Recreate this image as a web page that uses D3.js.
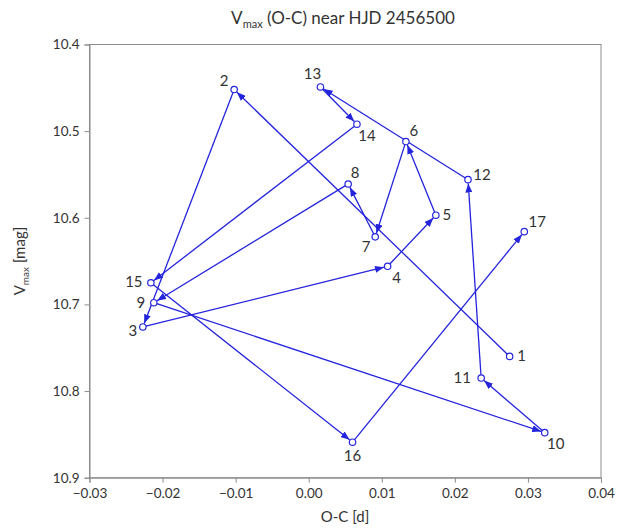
<!DOCTYPE html>
<html lang="en">
<head>
  <meta charset="utf-8">
  <title>Vmax O-C</title>
  <script src="https://cdn.jsdelivr.net/npm/d3@7"></script>
  <style>
    * { margin: 0; padding: 0; }
    body { background: #fff; }
    svg text { font-family: Lato, "Open Sans", sans-serif; fill: #333; }
  </style>
</head>
<body>
  <div id="chart"></div>
  <script>
    // point numbers, O-C [d], Vmax [mag]
    var ids = [1, 2, 3, 4, 5, 6, 7, 8, 9, 10, 11, 12, 13, 14, 15, 16, 17];
    var oc = [0.0275, -0.0102, -0.0227, 0.0108, 0.0174, 0.0133, 0.0091, 0.0054, -0.0212,
              0.0323, 0.0236, 0.0218, 0.0016, 0.0066, -0.0216, 0.0060, 0.0295];
    var vmax = [10.760, 10.452, 10.726, 10.656, 10.597, 10.512, 10.622, 10.561, 10.698,
                10.848, 10.785, 10.556, 10.449, 10.492, 10.675, 10.859, 10.616];
    var xTicks = [-0.03, -0.02, -0.01, 0.00, 0.01, 0.02, 0.03, 0.04];
    var yTicks = [10.4, 10.5, 10.6, 10.7, 10.8, 10.9];

    // where each number sits relative to its point
    var labelOffset = {
      1: [12, 5], 2: [-10, -4], 3: [-10, 9], 4: [9, 17], 5: [11, 5], 6: [8, -6],
      7: [-9, 15], 8: [7, -6], 9: [-13, 5], 10: [11, 16], 11: [-19, 5], 12: [14, 0],
      13: [-8, -8], 14: [10, 17], 15: [-17, 4], 16: [0, 19], 17: [13, -5]
    };

    var W = 626, H = 532;
    var margin = { top: 44.5, right: 25, bottom: 54.3, left: 89.5 };
    var blue = '#2424dc';

    var svg = d3.select('#chart').append('svg')
        .attr('width', W)
        .attr('height', H);

    var x = d3.scaleLinear().domain([-0.03, 0.04]).range([margin.left, W - margin.right]);
    var y = d3.scaleLinear().domain([10.4, 10.9]).range([margin.top, H - margin.bottom]);

    // frame
    svg.append('rect')
        .attr('x', x(-0.03)).attr('y', y(10.4))
        .attr('width', x(0.04) - x(-0.03)).attr('height', y(10.9) - y(10.4))
        .attr('fill', 'none').attr('stroke', '#8c8c8c').attr('stroke-width', 1);

    var xAxis = svg.append('g')
        .attr('transform', 'translate(0,' + y(10.9) + ')')
        .call(d3.axisBottom(x).tickValues(xTicks).tickSize(5).tickPadding(6)
          .tickFormat(d3.format('.2f')));
    var yAxis = svg.append('g')
        .attr('transform', 'translate(' + x(-0.03) + ',0)')
        .call(d3.axisLeft(y).tickValues(yTicks).tickSize(5).tickPadding(5)
          .tickFormat(d3.format('.1f')));
    [xAxis, yAxis].forEach(function(g) {
      g.select('.domain').attr('stroke', '#8c8c8c');
      g.selectAll('line').attr('stroke', '#8c8c8c');
      g.selectAll('text').attr('font-size', '13.5px').attr('fill', '#333')
        .style('font-family', 'Lato, sans-serif');
    });

    // title
    var title = svg.append('text')
        .attr('x', 343).attr('y', 24)
        .attr('text-anchor', 'middle')
        .attr('font-size', '17px');
    title.append('tspan').text('V');
    title.append('tspan').attr('font-size', '11px').attr('dy', 4).text('max');
    title.append('tspan').attr('dy', -4).text(' (O-C) near HJD 2456500');

    svg.append('text')
        .attr('x', 345).attr('y', 522)
        .attr('text-anchor', 'middle')
        .attr('font-size', '15px')
        .text('O-C [d]');

    var ytitle = svg.append('text')
        .attr('transform', 'translate(25,' + 261 + ') rotate(-90)')
        .attr('text-anchor', 'middle')
        .attr('font-size', '15px');
    ytitle.append('tspan').text('V');
    ytitle.append('tspan').attr('font-size', '10px').attr('dy', 4).text('max');
    ytitle.append('tspan').attr('dy', -4).text(' [mag]');

    svg.append('defs').append('marker')
        .attr('id', 'arrow')
        .attr('viewBox', '0 0 9 7')
        .attr('markerUnits', 'userSpaceOnUse')
        .attr('markerWidth', 9).attr('markerHeight', 7)
        .attr('refX', 9).attr('refY', 3.5)
        .attr('orient', 'auto')
      .append('path')
        .attr('d', 'M0,0 L9,3.5 L0,7 Z')
        .attr('fill', blue);

    var pts = ids.map(function(id, i) {
      return { id: id, px: x(oc[i]), py: y(vmax[i]) };
    });
    var r = 3.2;

    var segs = d3.pairs(pts).map(function(p) {
      var a = p[0], b = p[1];
      var dx = b.px - a.px, dy = b.py - a.py, L = Math.sqrt(dx * dx + dy * dy);
      return {
        x1: a.px + dx / L * r, y1: a.py + dy / L * r,
        x2: b.px - dx / L * (r + 0.6), y2: b.py - dy / L * (r + 0.6)
      };
    });

    svg.selectAll('line.seg').data(segs).enter().append('line')
        .attr('class', 'seg')
        .attr('x1', function(d) { return d.x1; })
        .attr('y1', function(d) { return d.y1; })
        .attr('x2', function(d) { return d.x2; })
        .attr('y2', function(d) { return d.y2; })
        .attr('stroke', blue)
        .attr('stroke-width', 1.3)
        .attr('marker-end', 'url(#arrow)');

    svg.selectAll('circle.pt').data(pts).enter().append('circle')
        .attr('class', 'pt')
        .attr('cx', function(d) { return d.px; })
        .attr('cy', function(d) { return d.py; })
        .attr('r', r)
        .attr('fill', '#fff')
        .attr('stroke', blue)
        .attr('stroke-width', 1.2);

    svg.selectAll('text.lbl').data(pts).enter().append('text')
        .attr('class', 'lbl')
        .attr('x', function(d) { return d.px + labelOffset[d.id][0]; })
        .attr('y', function(d) { return d.py + labelOffset[d.id][1]; })
        .attr('text-anchor', 'middle')
        .attr('font-size', '15px')
        .text(function(d) { return d.id; });
  </script>
</body>
</html>
